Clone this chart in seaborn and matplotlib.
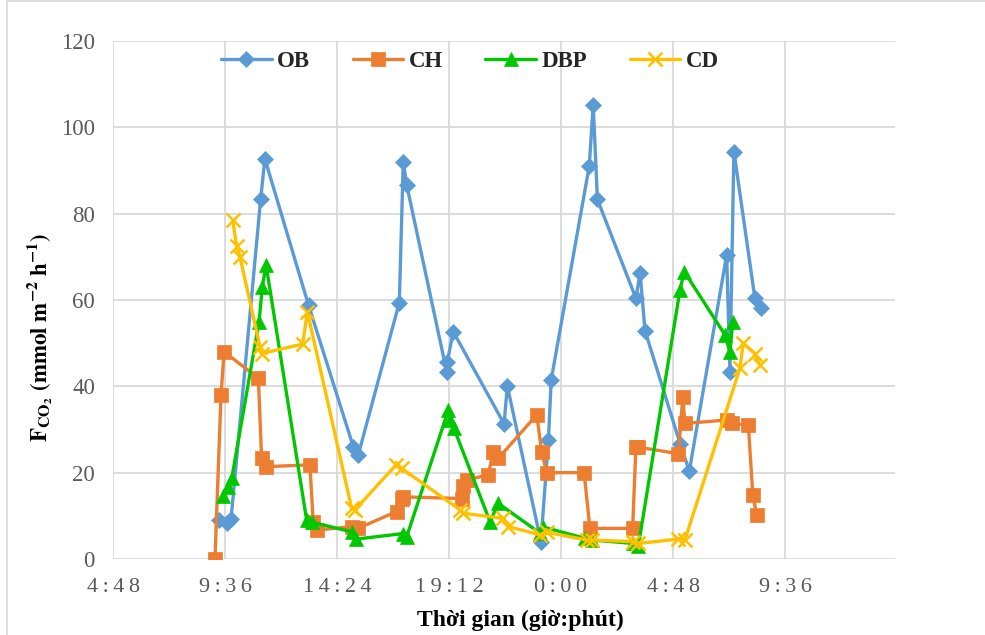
import matplotlib
matplotlib.use("Agg")
import matplotlib.pyplot as plt
import seaborn as sns
import pandas as pd
from matplotlib.lines import Line2D

# ---- data (time in hours from midnight of day 1; values in mmol m-2 h-1) ----
ob_t = [9.35, 9.69, 9.86, 11.13, 11.31, 13.18, 15.10, 15.31, 17.07, 17.24, 17.39,
        19.10, 19.13, 19.38, 21.56, 21.70, 23.14, 23.46, 23.58, 25.21, 25.38, 25.56,
        27.21, 27.39, 27.60, 29.11, 29.50, 31.10, 31.24, 31.41, 32.31, 32.56]
ob_v = [9.0, 8.3, 9.3, 83.5, 92.7, 58.8, 26.0, 24.1, 59.4, 92.0, 86.6,
        43.4, 45.7, 52.7, 31.3, 40.1, 4.0, 27.5, 41.5, 91.0, 105.2, 83.3,
        60.4, 66.3, 52.9, 26.6, 20.4, 70.4, 43.4, 94.4, 60.4, 58.2]

ch_t = [9.17, 9.43, 9.56, 11.03, 11.17, 11.36, 13.24, 13.38, 13.53, 15.04, 15.30,
        16.96, 17.17, 17.24, 19.74, 19.81, 19.96, 20.88, 21.10, 21.31, 22.96, 23.17,
        23.39, 24.99, 25.24, 27.07, 27.21, 27.31, 29.03, 29.22, 29.31, 31.10, 31.32,
        32.03, 32.22, 32.39]
ch_v = [0.0, 38.0, 48.0, 41.9, 23.3, 21.4, 21.8, 8.6, 6.7, 7.5, 7.1,
        11.0, 14.0, 14.4, 14.0, 16.8, 18.3, 19.5, 24.9, 23.3, 33.4, 24.9,
        20.0, 20.0, 7.1, 7.1, 26.0, 25.9, 24.4, 37.6, 31.4, 32.2, 31.4,
        31.0, 14.8, 10.2]

dbp_t = [9.53, 9.74, 9.89, 11.06, 11.20, 11.36, 13.10, 13.33, 15.03, 15.21, 17.24,
         17.39, 19.17, 19.24, 19.41, 20.96, 21.31, 23.10, 23.24, 25.03, 25.32, 27.10,
         27.31, 29.10, 29.28, 31.03, 31.24, 31.36]
dbp_v = [14.6, 16.6, 18.7, 55.0, 63.1, 68.1, 9.0, 8.5, 6.3, 4.6, 5.9,
         5.2, 34.5, 32.2, 30.3, 8.6, 12.9, 6.0, 7.4, 4.8, 4.4, 3.6,
         2.9, 62.3, 66.6, 51.9, 48.0, 55.0]

cd_t = [9.93, 10.10, 10.24, 11.10, 11.17, 12.93, 13.13, 15.03, 15.17, 16.93, 17.17,
        19.67, 19.81, 21.53, 21.74, 23.10, 23.39, 25.10, 25.32, 27.10, 27.31, 29.03,
        29.31, 31.67, 31.81, 32.31, 32.53]
cd_v = [78.5, 72.5, 70.0, 49.2, 47.6, 49.8, 57.3, 11.7, 11.4, 21.8, 21.0,
        11.4, 10.6, 9.4, 7.5, 5.6, 6.2, 4.4, 4.4, 4.0, 3.6, 4.6,
        4.4, 44.2, 50.0, 47.6, 44.9]

tick_hours = [4.8, 9.6, 14.4, 19.2, 24.0, 28.8, 33.6]
tick_labels = ["4:48", "9:36", "14:24", "19:12", "0:00", "4:48", "9:36"]
y_ticks = [0, 20, 40, 60, 80, 100, 120]

series = [
    ("OB", ob_t, ob_v, "#5B9BD5", "D", 8.5),
    ("CH", ch_t, ch_v, "#ED7D31", "s", 9.5),
    ("DBP", dbp_t, dbp_v, "#00C800", "^", 10.5),
    ("CD", cd_t, cd_v, "#FFC000", "x", 10),
]

sns.set_theme(style="white")
plt.rcParams["font.family"] = ["Liberation Serif", "DejaVu Serif"]
plt.rcParams["mathtext.fontset"] = "stix"

fig = plt.figure(figsize=(9.85, 6.35), dpi=100)
ax = fig.add_axes([113 / 985, 1 - 559 / 635, (895 - 113) / 985, (559 - 41) / 635])

for name, t, v, col, mk, ms in series:
    df = pd.DataFrame({"t": t, "v": v})
    sns.lineplot(data=df, x="t", y="v", ax=ax, color=col, marker=mk, markersize=ms,
                 linewidth=2.4, sort=False, estimator=None, label=name,
                 markeredgecolor=col, markeredgewidth=1.8 if mk == "x" else 0.5, zorder=3)

ax.set_xlim(4.8, 4.8 + (895 - 113) * 24 / 560)
ax.set_ylim(0, 120)
ax.set_xticks(tick_hours)
ax.set_xticklabels(["\u2009".join(lbl) for lbl in tick_labels])
ax.set_yticks(y_ticks)
ax.grid(True, color="#D9D9D9", linewidth=1.3, zorder=0)
ax.set_axisbelow(True)
for s in ax.spines.values():
    s.set_visible(False)
ax.tick_params(axis="both", length=0, colors="#595959")
ax.tick_params(axis="x", pad=14, labelsize=16)
ax.tick_params(axis="y", pad=13, labelsize=16.5)

ax.set_xlabel("Thời gian (giờ:phút)", fontsize=17, fontweight="bold", color="black")
ax.xaxis.set_label_coords((520 - 113) / 782, (559 - 620) / 518)
ax.xaxis.label.set_verticalalignment("center")
ax.set_ylabel(r"$\mathbf{F_{CO_2}\ (mmol\ m^{-2}\ h^{-1})}$", fontsize=16.5, color="black")
ax.yaxis.set_label_coords((40 - 113) / 782, (559 - 337) / 518)
ax.yaxis.label.set_verticalalignment("center")

handles = [Line2D([0], [0], color=c, marker=m, markersize=ms, linewidth=2.4,
                  markeredgecolor=c, markeredgewidth=1.8 if m == "x" else 0.5)
           for _, _, _, c, m, ms in series]
leg = ax.legend(handles, [s[0] for s in series], loc="center", bbox_to_anchor=((470 - 113) / 782, 0.96),
                ncol=4, frameon=False, handlelength=2.2, columnspacing=1.85, handletextpad=0.25,
                prop={"family": "Liberation Serif", "weight": "bold", "size": 16.5})

# outer chart border
fig.add_artist(Line2D([7 / 985, 7 / 985], [0, 1], color="#D9D9D9", linewidth=1.2))
fig.add_artist(Line2D([7 / 985, 1], [1 - 1 / 635, 1 - 1 / 635], color="#D9D9D9", linewidth=1.2))

fig.savefig("out.png", dpi=100)
